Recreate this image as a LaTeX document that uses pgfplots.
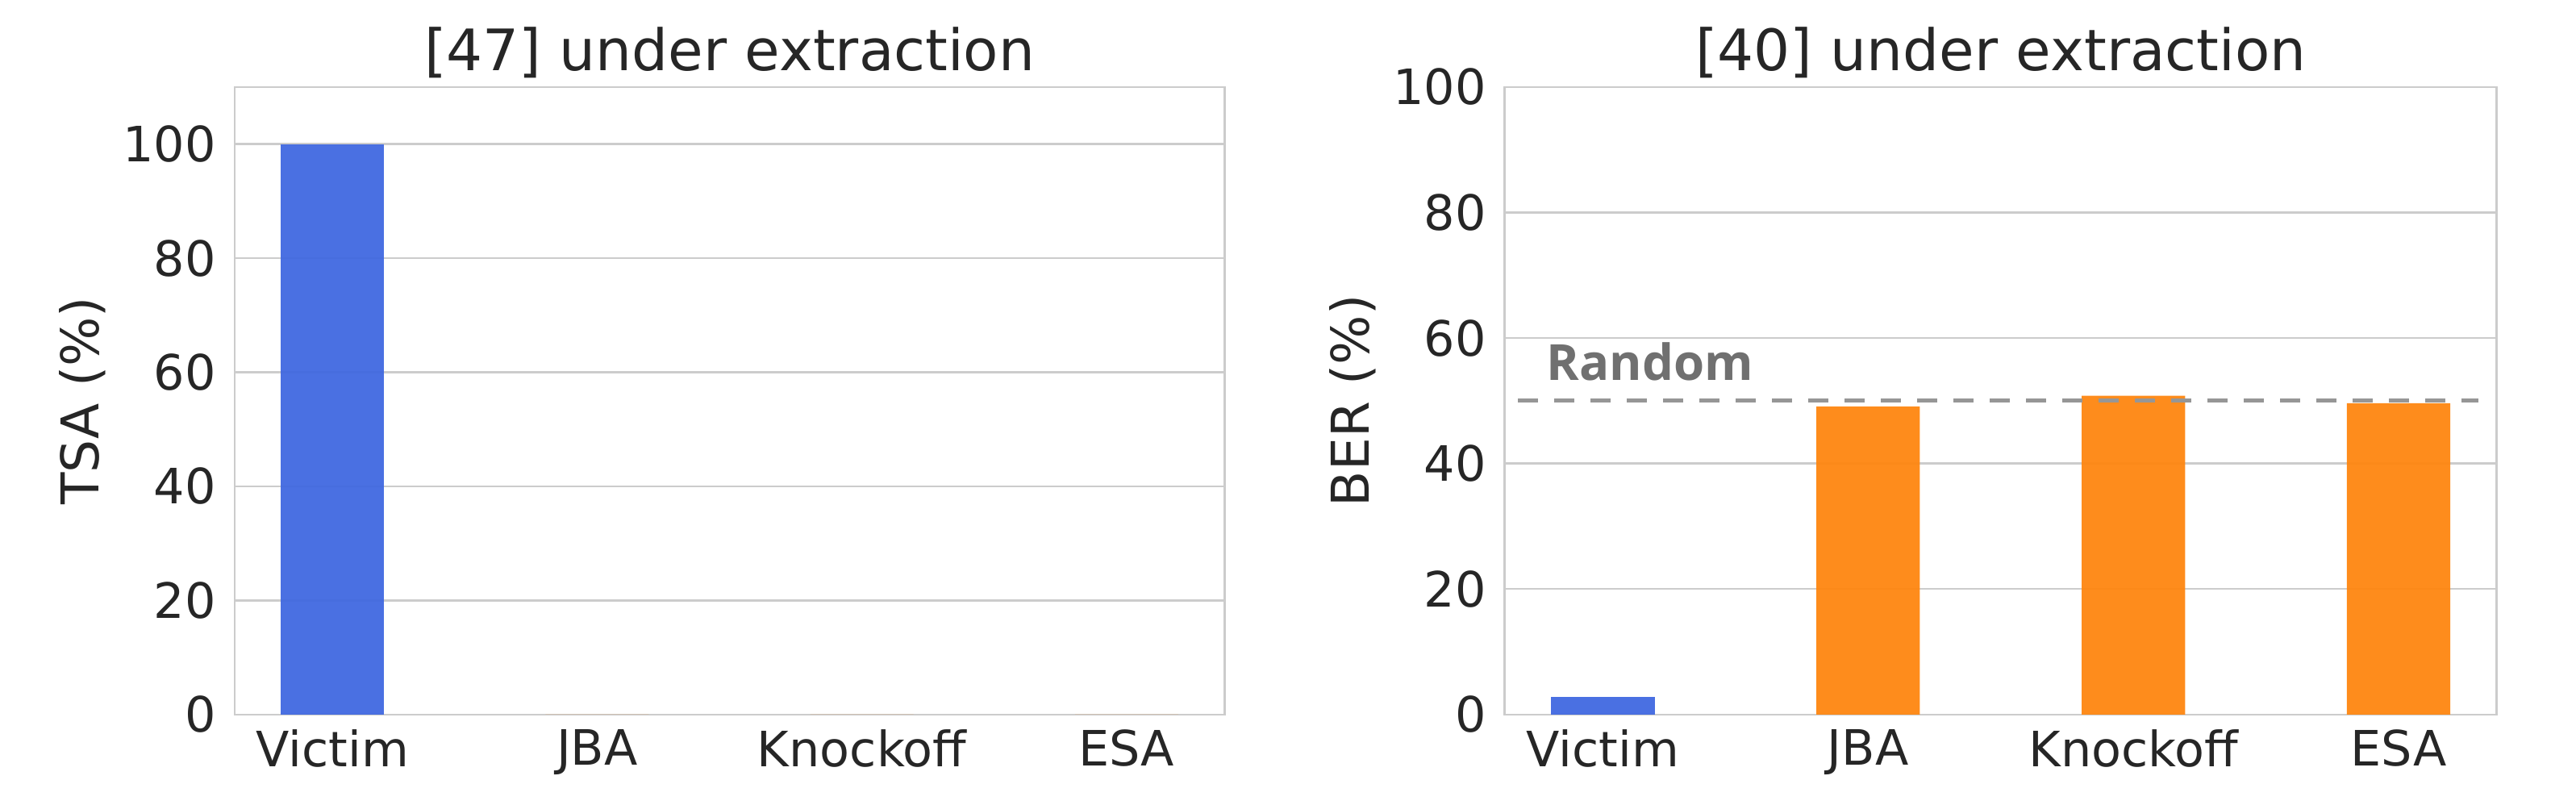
\documentclass[border=0pt]{standalone}
\usepackage{fontspec}
\setmainfont{DejaVu Sans}
\newfontfamily\randfont{Open Sans}
\usepackage{pgfplots}
\pgfplotsset{compat=1.18}

\definecolor{barblue}{RGB}{64,104,224}
\definecolor{barorange}{RGB}{254,134,16}
\definecolor{gridc}{RGB}{204,204,204}
\definecolor{txt}{RGB}{38,38,38}
\definecolor{randline}{RGB}{150,150,150}
\definecolor{randtext}{RGB}{112,112,112}

\pgfplotsset{
  panel/.style={
    scale only axis,
    width=294.6pt, height=186.7pt,
    xmin=-0.37, xmax=3.37,
    ymin=0,
    xtick={0,1,2,3},
    xticklabels={Victim,JBA,Knockoff,ESA},
    major tick length=0pt,
    ymajorgrids,
    grid style={line width=0.6pt, draw=gridc},
    axis line style={line width=0.6pt, draw=gridc},
    tick label style={font=\fontsize{14.5}{17}\selectfont, text=txt},
    /pgf/number format/assume math mode=true,
    yticklabel style={xshift=-2pt},
    xticklabel style={yshift=-1pt},
    label style={font=\fontsize{15.5}{18}\selectfont, text=txt},
    ylabel style={at={(axis description cs:-0.137,0.5)}, anchor=base},
    title style={font=\fontsize{17}{20}\selectfont, text=txt,
      at={(axis description cs:0.5,1)}, anchor=base, yshift=-1.2pt},
  },
  bar/.style={ybar, bar shift=0pt, bar width=0.39, draw=none, fill opacity=0.95},
}

\begin{document}
\begin{tikzpicture}
\path[use as bounding box] (-69.8pt,-26.9pt) rectangle (696.8pt,212.6pt);

\begin{axis}[panel,
  at={(0pt,0pt)},
  ymax=110, ytick={0,20,40,60,80,100},
  ylabel={TSA (\%)},
  title={[47] under extraction},
]
  \addplot[bar, fill=barblue] coordinates {(0,100)};
  \addplot[bar, fill=barorange] coordinates {(1,0) (2,0) (3,0)};
\end{axis}

\begin{axis}[panel,
  at={(378pt,0pt)},
  width=295.2pt,
  ymax=100, ytick={0,20,40,60,80,100},
  ylabel={BER (\%)},
  title={[40] under extraction},
]
  \addplot[bar, fill=barblue] coordinates {(0,2.8)};
  \addplot[bar, fill=barorange] coordinates {(1,49.1) (2,50.8) (3,49.6)};
  \addplot[randline, line width=1.2pt, dash pattern=on 6pt off 4.8pt]
    coordinates {(-0.32,50) (3.30,50)};
  \node[anchor=base west, text=randtext, inner sep=0pt,
    font=\randfont\bfseries\fontsize{14.8}{17}\selectfont]
    at (axis cs:-0.215,53.2) {Random};
\end{axis}
\end{tikzpicture}
\end{document}
